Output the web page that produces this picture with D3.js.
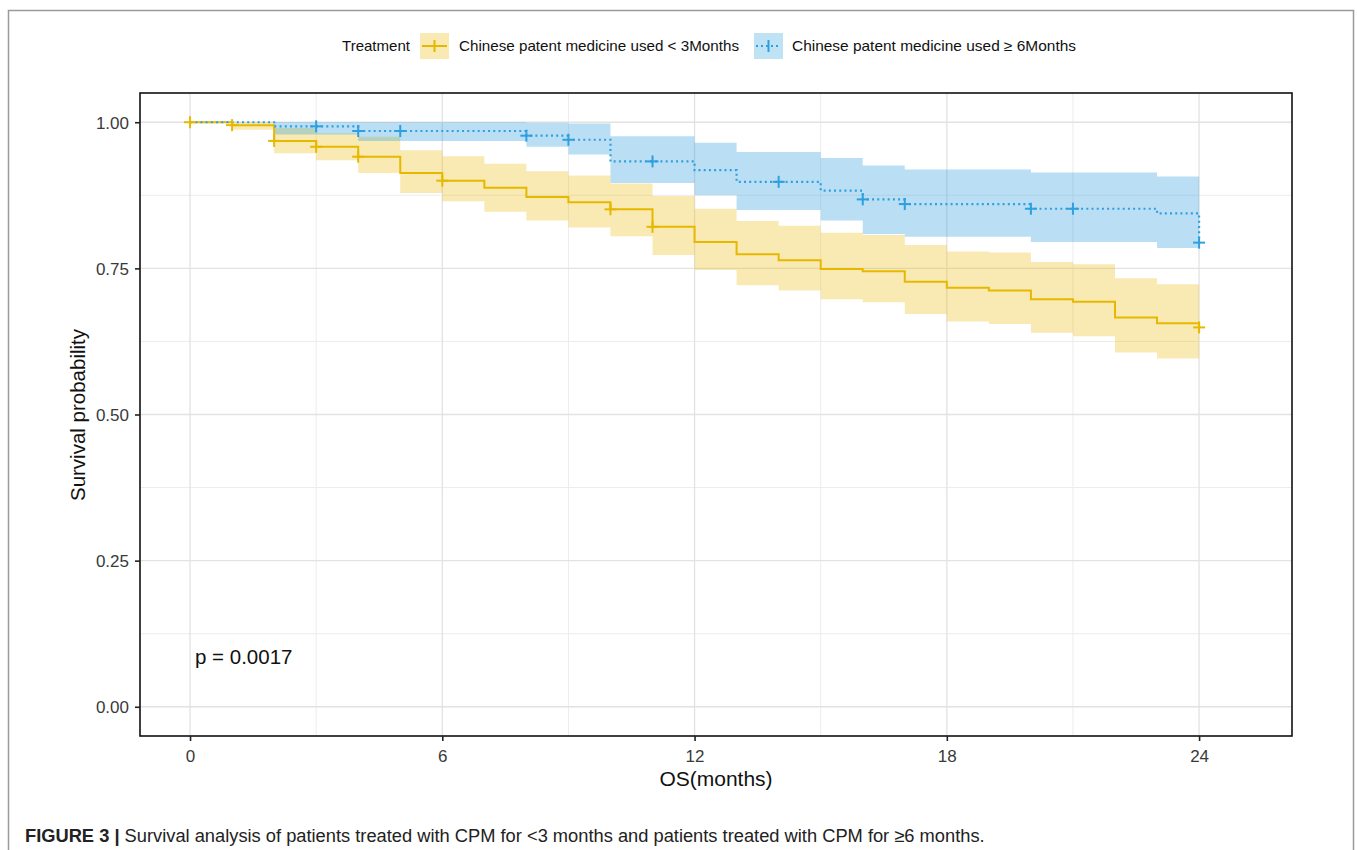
<!DOCTYPE html>
<html>
<head>
<meta charset="utf-8">
<script src="https://cdn.jsdelivr.net/npm/d3@7"></script>
<style>
  body { margin: 0; background: #fff; }
  svg text { font-family: Arial, "Liberation Sans", Helvetica, sans-serif; }
</style>
</head>
<body>
<svg id="chart" width="1357" height="850"></svg>
<script>
// Kaplan-Meier estimates (months, survival, 95% CI)
var shortTimes = [0, 1, 2, 3, 4, 5, 6, 7, 8, 9, 10, 11, 12, 13, 14, 15, 16, 17, 18, 19, 20, 21, 22, 23, 24];
var shortSurv  = [1.000, 0.995, 0.968, 0.958, 0.941, 0.913, 0.900, 0.888, 0.872, 0.863, 0.851, 0.821, 0.795, 0.774, 0.764, 0.749, 0.745, 0.727, 0.717, 0.712, 0.697, 0.693, 0.666, 0.656, 0.649];
var shortUpper = [1.000, 1.000, 0.990, 0.981, 0.975, 0.952, 0.942, 0.929, 0.916, 0.909, 0.895, 0.874, 0.852, 0.831, 0.823, 0.811, 0.807, 0.790, 0.779, 0.777, 0.761, 0.757, 0.733, 0.723, 0.723];
var shortLower = [1.000, 0.987, 0.947, 0.935, 0.913, 0.879, 0.865, 0.847, 0.832, 0.820, 0.805, 0.773, 0.747, 0.721, 0.712, 0.697, 0.692, 0.672, 0.659, 0.655, 0.640, 0.634, 0.606, 0.596, 0.596];
var shortCensor = [0, 1, 2, 3, 4, 6, 10, 11, 24];

var longTimes = [0, 2, 4, 8, 9, 10, 12, 13, 15, 16, 17, 20, 23, 24];
var longSurv  = [1.000, 0.993, 0.985, 0.977, 0.970, 0.933, 0.918, 0.898, 0.883, 0.868, 0.860, 0.852, 0.844, 0.794];
var longUpper = [1.000, 1.000, 1.000, 0.999, 0.998, 0.976, 0.965, 0.949, 0.939, 0.926, 0.919, 0.914, 0.907, 0.907];
var longLower = [1.000, 0.979, 0.968, 0.958, 0.945, 0.896, 0.875, 0.850, 0.832, 0.809, 0.804, 0.795, 0.785, 0.785];
var longCensor = [3, 4, 5, 8, 9, 11, 14, 16, 17, 20, 21, 24];

var xTicks = [0, 6, 12, 18, 24];
var xMinor = [3, 9, 15, 21];
var yTicks = [0, 0.25, 0.5, 0.75, 1];
var yMinor = [0.125, 0.375, 0.625, 0.875];

var groupNames = ['Chinese patent medicine used < 3Months', 'Chinese patent medicine used \u2265 6Months'];
var pText = 'p = 0.0017';
var caption = 'Survival analysis of patients treated with CPM for <3 months and patients treated with CPM for \u22656 months.';

var gold = '#E7B800', blue = '#2E9FDF';

var svg = d3.select('#chart');
var panel = {left: 140, right: 1292, top: 93, bottom: 736};

// outer figure frame
svg.append('rect')
  .attr('x', 8.5).attr('y', 10.5).attr('width', 1345).attr('height', 860)
  .style('fill', 'none').style('stroke', '#9a9a9a').style('stroke-width', 1.5);

var x = d3.scaleLinear().domain([-1.19, 26.21]).range([panel.left, panel.right]);
var y = d3.scaleLinear().domain([-0.05, 1.05]).range([panel.bottom, panel.top]);

// grid
var grid = svg.append('g');
grid.selectAll('.xminor').data(xMinor).enter().append('line')
  .attr('x1', function(d) { return x(d); }).attr('x2', function(d) { return x(d); })
  .attr('y1', panel.top).attr('y2', panel.bottom)
  .style('stroke', '#ececec').style('stroke-width', 1);
grid.selectAll('.yminor').data(yMinor).enter().append('line')
  .attr('y1', function(d) { return y(d); }).attr('y2', function(d) { return y(d); })
  .attr('x1', panel.left).attr('x2', panel.right)
  .style('stroke', '#ececec').style('stroke-width', 1);
grid.selectAll('.xmajor').data(xTicks).enter().append('line')
  .attr('x1', function(d) { return x(d); }).attr('x2', function(d) { return x(d); })
  .attr('y1', panel.top).attr('y2', panel.bottom)
  .style('stroke', '#e2e2e2').style('stroke-width', 1.3);
grid.selectAll('.ymajor').data(yTicks).enter().append('line')
  .attr('y1', function(d) { return y(d); }).attr('y2', function(d) { return y(d); })
  .attr('x1', panel.left).attr('x2', panel.right)
  .style('stroke', '#e2e2e2').style('stroke-width', 1.3);

function rows(times, surv, lower, upper) {
  return times.map(function(t, i) {
    return {t: t, s: surv[i], lo: lower[i], hi: upper[i]};
  });
}
function survAt(times, surv, t) {
  var v = surv[0];
  times.forEach(function(tt, i) { if (tt <= t) v = surv[i]; });
  return v;
}

var shortData = rows(shortTimes, shortSurv, shortLower, shortUpper);
var longData = rows(longTimes, longSurv, longLower, longUpper);

var band = d3.area().curve(d3.curveStepAfter)
  .x(function(d) { return x(d.t); })
  .y0(function(d) { return y(d.lo); })
  .y1(function(d) { return y(d.hi); });
var line = d3.line().curve(d3.curveStepAfter)
  .x(function(d) { return x(d.t); })
  .y(function(d) { return y(d.s); });

svg.append('path').datum(shortData).attr('d', band)
  .style('fill', gold).style('opacity', 0.3);
svg.append('path').datum(longData).attr('d', band)
  .style('fill', blue).style('opacity', 0.33);

svg.append('path').datum(shortData).attr('d', line)
  .style('fill', 'none').style('stroke', gold).style('stroke-width', 2);
svg.append('path').datum(longData).attr('d', line)
  .style('fill', 'none').style('stroke', blue).style('stroke-width', 2.2)
  .style('stroke-dasharray', '2,3.2');

function plus(g, cx, cy, color) {
  g.append('line').attr('x1', cx - 6).attr('x2', cx + 6).attr('y1', cy).attr('y2', cy)
    .style('stroke', color).style('stroke-width', 2);
  g.append('line').attr('x1', cx).attr('x2', cx).attr('y1', cy - 6).attr('y2', cy + 6)
    .style('stroke', color).style('stroke-width', 2);
}

var marks = svg.append('g');
shortCensor.forEach(function(t) {
  plus(marks, x(t), y(survAt(shortTimes, shortSurv, t)), gold);
});
longCensor.forEach(function(t) {
  plus(marks, x(t), y(survAt(longTimes, longSurv, t)), blue);
});

// panel border
svg.append('rect')
  .attr('x', panel.left).attr('y', panel.top)
  .attr('width', panel.right - panel.left).attr('height', panel.bottom - panel.top)
  .style('fill', 'none').style('stroke', '#111').style('stroke-width', 1.6);

// axes
var xAxis = svg.append('g').attr('transform', 'translate(0,' + panel.bottom + ')')
  .call(d3.axisBottom(x).tickValues(xTicks).tickSize(5).tickPadding(9).tickFormat(d3.format('d')));
var yAxis = svg.append('g').attr('transform', 'translate(' + panel.left + ',0)')
  .call(d3.axisLeft(y).tickValues(yTicks).tickSize(5).tickPadding(6).tickFormat(d3.format('.2f')));
[xAxis, yAxis].forEach(function(a) {
  a.select('.domain').remove();
  a.selectAll('.tick line').style('stroke', '#222').style('stroke-width', 1.6);
  a.selectAll('.tick text').style('font-size', '17px').style('fill', '#3a3a3a')
    .style('font-family', 'Arial, "Liberation Sans", sans-serif');
});
yAxis.selectAll('.tick text').attr('dy', '0.36em');

svg.append('text').attr('x', (panel.left + panel.right) / 2).attr('y', 786)
  .attr('text-anchor', 'middle').style('font-size', '21px').style('fill', '#111')
  .text('OS(months)');
svg.append('text').attr('transform', 'translate(85,415) rotate(-90)')
  .attr('text-anchor', 'middle').style('font-size', '20.5px').style('fill', '#111')
  .text('Survival probability');

svg.append('text').attr('x', 195).attr('y', 664)
  .style('font-size', '20.5px').style('fill', '#111').text(pText);

// legend
var legend = svg.append('g');
legend.append('text').attr('x', 342).attr('y', 51).style('font-size', '14.5px').style('fill', '#111')
  .attr('textLength', 68).attr('lengthAdjust', 'spacingAndGlyphs').text('Treatment');

var keys = [
  {x: 420, color: gold, dash: null, tx: 459, tw: 280, label: groupNames[0]},
  {x: 754, color: blue, dash: '2,3', tx: 792, tw: 284, label: groupNames[1]}
];
keys.forEach(function(k) {
  legend.append('rect').attr('x', k.x).attr('y', 33).attr('width', 29).attr('height', 26)
    .style('fill', k.color).style('opacity', 0.3);
  legend.append('line').attr('x1', k.x + 2).attr('x2', k.x + 27).attr('y1', 46).attr('y2', 46)
    .style('stroke', k.color).style('stroke-width', 2).style('stroke-dasharray', k.dash);
  legend.append('line').attr('x1', k.x + 14.5).attr('x2', k.x + 14.5).attr('y1', 40).attr('y2', 52)
    .style('stroke', k.color).style('stroke-width', 2);
  legend.append('text').attr('x', k.tx).attr('y', 51).style('font-size', '14.5px').style('fill', '#111')
    .attr('textLength', k.tw).attr('lengthAdjust', 'spacingAndGlyphs').text(k.label);
});

// caption
var cap = svg.append('text').attr('x', 25).attr('y', 842).style('font-size', '18.3px').style('fill', '#222');
cap.append('tspan').style('font-weight', 'bold').text('FIGURE 3 | ');
cap.append('tspan').text(caption);
</script>
</body>
</html>
